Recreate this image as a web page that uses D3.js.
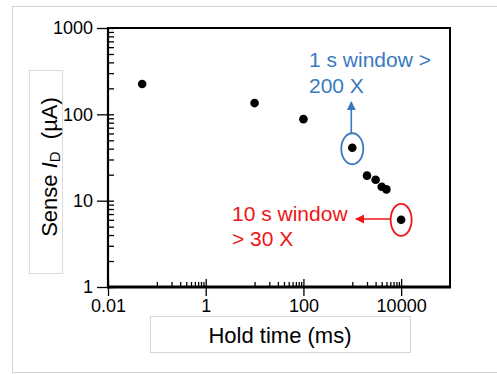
<!DOCTYPE html>
<html>
<head>
<meta charset="utf-8">
<script src="https://cdn.jsdelivr.net/npm/d3@7"></script>
<style>
  body { margin: 0; background: #fff; }
  svg { display: block; font-family: "Liberation Sans", Arial, sans-serif; }
</style>
</head>
<body>
<svg width="497" height="374"></svg>
<script>
// data
const holdTime = [0.05, 10, 100, 1000, 2000, 3000, 4000, 5000, 10000];   // ms
const senseId  = [225, 135, 88, 41, 19.5, 17.5, 14.5, 13.5, 6];          // uA
const xTicks = [0.01, 1, 100, 10000];
const yTicks = [1, 10, 100, 1000];
const xMinorDecades = [0.1, 10, 1000];   // minor ticks only drawn in these decades
const yMinorDecades = [1, 10, 100];

const svg = d3.select("svg");
const m = { left: 108, right: 450, top: 28, bottom: 287 };

// frames around the picture and the title boxes (as in the screenshot)
svg.append("rect").attr("x", 12.5).attr("y", 6.5).attr("width", 520).attr("height", 366)
  .attr("fill", "none").attr("stroke", "#d2d2d2");
svg.append("rect").attr("x", 29.5).attr("y", 70.5).attr("width", 33).attr("height", 203)
  .attr("fill", "none").attr("stroke", "#dcdcdc");
svg.append("rect").attr("x", 150.5).attr("y", 316.5).attr("width", 260).attr("height", 36)
  .attr("fill", "none").attr("stroke", "#d6d6d6");

const x = d3.scaleLog().domain([0.01, 100000]).range([m.left, m.right]);
const y = d3.scaleLog().domain([1, 1000]).range([m.bottom, m.top]);

const minors = decs => decs.flatMap(d => d3.range(1, 10).map(k => k * d));

// y axis: majors outward with labels, all ticks also inward
svg.append("g").attr("transform", `translate(${m.left},0)`)
  .call(d3.axisLeft(y).tickValues(yTicks).tickFormat(d3.format("d")).tickSize(11).tickPadding(4))
  .call(g => g.select(".domain").remove());
svg.append("g").attr("transform", `translate(${m.left},0)`)
  .call(d3.axisRight(y).tickValues(minors(yMinorDecades).concat([1000])).tickFormat("").tickSize(6))
  .call(g => g.select(".domain").remove());

// x axis
svg.append("g").attr("transform", `translate(0,${m.bottom})`)
  .call(d3.axisBottom(x).tickValues(xTicks).tickFormat(d => d < 1 ? d3.format(".2f")(d) : d3.format("d")(d)).tickSize(9).tickPadding(3))
  .call(g => g.select(".domain").remove());
svg.append("g").attr("transform", `translate(0,${m.bottom})`)
  .call(d3.axisTop(x).tickValues(minors(xMinorDecades).filter(v => !xTicks.includes(v))).tickFormat("").tickSize(5))
  .call(g => g.select(".domain").remove());
svg.append("g").attr("transform", `translate(0,${m.bottom})`)
  .call(d3.axisTop(x).tickValues(xTicks).tickFormat("").tickSize(8))
  .call(g => g.select(".domain").remove());

svg.selectAll(".tick line").attr("stroke", "#000").attr("stroke-width", 1.3);
svg.selectAll(".tick text").attr("font-size", 18).attr("fill", "#000").attr("font-family", null);

// frame lines
svg.append("line").attr("x1", m.left).attr("x2", m.right).attr("y1", m.top).attr("y2", m.top)
  .attr("stroke", "#000").attr("stroke-width", 2);
svg.append("line").attr("x1", m.right).attr("x2", m.right).attr("y1", m.top - 1).attr("y2", m.bottom)
  .attr("stroke", "#000").attr("stroke-width", 2);
svg.append("line").attr("x1", m.left).attr("x2", m.left).attr("y1", m.top - 1).attr("y2", m.bottom)
  .attr("stroke", "#000").attr("stroke-width", 2.2);
svg.append("line").attr("x1", m.left - 1).attr("x2", m.right + 1).attr("y1", m.bottom).attr("y2", m.bottom)
  .attr("stroke", "#000").attr("stroke-width", 3.2);

// points
svg.append("g").selectAll("circle").data(holdTime).join("circle")
  .attr("cx", d => x(d))
  .attr("cy", (d, i) => y(senseId[i]))
  .attr("r", 4.3)
  .attr("fill", "#000");

// axis titles
svg.append("text").attr("x", 280).attr("y", 343).attr("text-anchor", "middle")
  .attr("font-size", 22).text("Hold time (ms)");
const yt = svg.append("text").attr("transform", "translate(57,167) rotate(-90)")
  .attr("text-anchor", "middle").attr("font-size", 22);
yt.append("tspan").text("Sense ");
yt.append("tspan").attr("font-style", "italic").text("I");
yt.append("tspan").attr("font-size", 15).attr("dy", 3).text("D");
yt.append("tspan").attr("dy", -3).text("\u00a0 (\u00b5A)");

// annotations
const blue = "#3a7abf", red = "#f01515";
const defs = svg.append("defs");
[["arrB", blue], ["arrR", red]].forEach(([id, c]) => {
  defs.append("marker").attr("id", id).attr("viewBox", "0 0 10 10").attr("refX", 9).attr("refY", 5)
    .attr("markerWidth", 9).attr("markerHeight", 9).attr("markerUnits", "userSpaceOnUse")
    .attr("orient", "auto")
    .append("path").attr("d", "M0,0L10,5L0,10Z").attr("fill", c);
});

const pB = [x(1000), y(41)], pR = [x(10000), y(6)];
svg.append("ellipse").attr("cx", pB[0]).attr("cy", pB[1] + 1).attr("rx", 11).attr("ry", 15.5)
  .attr("fill", "none").attr("stroke", blue).attr("stroke-width", 1.8);
svg.append("line").attr("x1", pB[0] - 1).attr("x2", pB[0] - 1).attr("y1", pB[1] - 14).attr("y2", 102)
  .attr("stroke", blue).attr("stroke-width", 1.6).attr("marker-end", "url(#arrB)");
const tb = svg.append("text").attr("fill", blue).attr("font-size", 21);
tb.append("tspan").attr("x", 309).attr("y", 67).text("1 s window >");
tb.append("tspan").attr("x", 309).attr("y", 93).text("200 X");

svg.append("ellipse").attr("cx", pR[0]).attr("cy", pR[1]).attr("rx", 10.5).attr("ry", 16)
  .attr("fill", "none").attr("stroke", red).attr("stroke-width", 1.8);
svg.append("line").attr("x1", pR[0] - 11).attr("x2", 356).attr("y1", 219).attr("y2", 219)
  .attr("stroke", red).attr("stroke-width", 1.6).attr("marker-end", "url(#arrR)");
const tr = svg.append("text").attr("fill", red).attr("font-size", 21);
tr.append("tspan").attr("x", 232).attr("y", 221).text("10 s window");
tr.append("tspan").attr("x", 232).attr("y", 246).text("> 30 X");
</script>
</body>
</html>
